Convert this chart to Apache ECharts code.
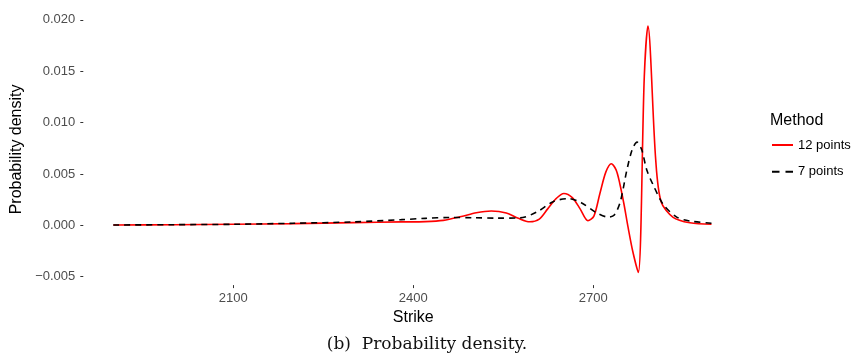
<!DOCTYPE html>
<html>
<head>
<meta charset="utf-8">
<title>Probability density</title>
<script src="https://cdn.jsdelivr.net/npm/echarts@6/dist/echarts.min.js"></script>
<style>
  html, body { margin: 0; padding: 0; background: #ffffff; }
  #chart { width: 854px; height: 363px; }
</style>
</head>
<body>
<div id="chart"></div>
<script>
// Risk-neutral density implied at each strike, for two interpolation grids.
const strikes12 = [1900, 2000, 2100, 2200, 2300, 2380, 2420, 2450, 2480, 2505, 2530, 2555, 2575, 2594,
  2610, 2624, 2638, 2651, 2665, 2678, 2691, 2701, 2711, 2721, 2730, 2738, 2744, 2751, 2758, 2766,
  2775, 2785, 2791, 2804, 2813, 2833, 2861, 2897];
const density12 = [0.00003, 0.00005, 0.0001, 0.00016, 0.00026, 0.00033, 0.00036, 0.00048, 0.00085, 0.00122,
  0.00139, 0.0012, 0.00068, 0.00034, 0.0006, 0.0016, 0.0026, 0.0031, 0.0027, 0.0016,
  0.00045, 0.0009, 0.0031, 0.0052, 0.006, 0.0054, 0.0041, 0.0021, -0.0002, -0.0026,
  -0.0046, 0.0145, 0.0194, 0.0064, 0.0023, 0.00078, 0.00025, 0.0001];

const strikes7 = [1900, 2000, 2100, 2200, 2300, 2380, 2420, 2460, 2500, 2540, 2578, 2606, 2633, 2658,
  2680, 2706, 2725, 2735, 2745, 2756, 2765, 2773, 2781, 2789, 2800, 2817, 2839, 2861, 2897];
const density7 = [0.00003, 0.00006, 0.0001, 0.0002, 0.00033, 0.00055, 0.00068, 0.00076, 0.00074, 0.0007,
  0.00072, 0.0013, 0.0023, 0.0026, 0.0022, 0.0012, 0.0008, 0.001, 0.0023, 0.0054,
  0.0074, 0.0081, 0.0073, 0.0054, 0.0039, 0.002, 0.0008, 0.00042, 0.0002];

const seriesNames = ['12 points', '7 points'];

const xTicks = [2100, 2400, 2700];
const xTickLabels = ['2100', '2400', '2700'];
const yTicks = [-0.005, 0, 0.005, 0.01, 0.015, 0.02];
const yTickLabels = ['\u22120.005', '0.000', '0.005', '0.010', '0.015', '0.020'];

const pairs = (xs, ys) => xs.map((x, i) => [x, ys[i]]);

// Pick the label whose tick value is nearest to v.
function labelFor(ticks, labels) {
  return function (v) {
    let best = 0;
    ticks.forEach(function (t, i) { if (Math.abs(t - v) < Math.abs(ticks[best] - v)) best = i; });
    return labels[best];
  };
}

const sans = 'Liberation Sans, Arial, Helvetica, sans-serif';
const tickLabelStyle = { color: '#4d4d4d', fontSize: 13, fontFamily: sans };

const chart = echarts.init(document.getElementById('chart'), null, { renderer: 'canvas' });

chart.setOption({
  backgroundColor: '#ffffff',
  animation: false,
  title: [
    {
      text: '(b)  Probability density.',
      left: 'center',
      top: 336,
      padding: 0,
      textStyle: { fontFamily: 'DejaVu Serif, serif', fontSize: 17, fontWeight: 'normal', color: '#111111' }
    },
    {
      text: 'Method',
      left: 770,
      top: 113,
      padding: 0,
      textStyle: { fontFamily: sans, fontSize: 16, fontWeight: 'normal', color: '#000000' }
    }
  ],
  legend: {
    orient: 'vertical',
    left: 771,
    top: 138,
    padding: 0,
    itemWidth: 21,
    itemHeight: 14,
    itemGap: 12.7,
    itemStyle: { opacity: 0, borderWidth: 0 },
    textStyle: { fontFamily: sans, fontSize: 13, color: '#000000', lineHeight: 14 },
    data: [
      { name: seriesNames[0] },
      { name: seriesNames[1], lineStyle: { type: [7.5, 6] } }
    ]
  },
  grid: { left: 83.3, right: 110.7, top: 13.7, bottom: 77.9 },
  xAxis: {
    type: 'value',
    min: 1850,
    max: 2950,
    name: 'Strike',
    nameLocation: 'middle',
    nameGap: 23,
    nameTextStyle: { fontFamily: sans, fontSize: 16, color: '#000000' },
    axisLine: { show: false, onZero: false },
    splitLine: { show: false },
    axisTick: { show: true, length: 3, customValues: xTicks, lineStyle: { color: '#333333', width: 1 } },
    axisLabel: Object.assign({ margin: 7, customValues: xTicks, formatter: labelFor(xTicks, xTickLabels) }, tickLabelStyle)
  },
  yAxis: {
    type: 'value',
    min: -0.00582,
    max: 0.0206,
    name: 'Probability density',
    nameLocation: 'middle',
    nameGap: 58,
    nameTextStyle: { fontFamily: sans, fontSize: 16, color: '#000000' },
    axisLine: { show: false },
    splitLine: { show: false },
    axisTick: { show: true, length: 3, customValues: yTicks, lineStyle: { color: '#333333', width: 1 } },
    axisLabel: Object.assign({ margin: 8, customValues: yTicks, formatter: labelFor(yTicks, yTickLabels) }, tickLabelStyle)
  },
  series: [
    {
      name: seriesNames[0],
      type: 'line',
      data: pairs(strikes12, density12),
      showSymbol: false,
      symbol: 'none',
      smooth: 0.3,
      lineStyle: { color: '#ff0000', width: 1.6 },
      itemStyle: { color: '#ff0000' }
    },
    {
      name: seriesNames[1],
      type: 'line',
      data: pairs(strikes7, density7),
      showSymbol: false,
      symbol: 'none',
      smooth: 0.3,
      lineStyle: { color: '#000000', width: 1.6, type: [6, 5] },
      itemStyle: { color: '#000000' }
    }
  ]
});
</script>
</body>
</html>
